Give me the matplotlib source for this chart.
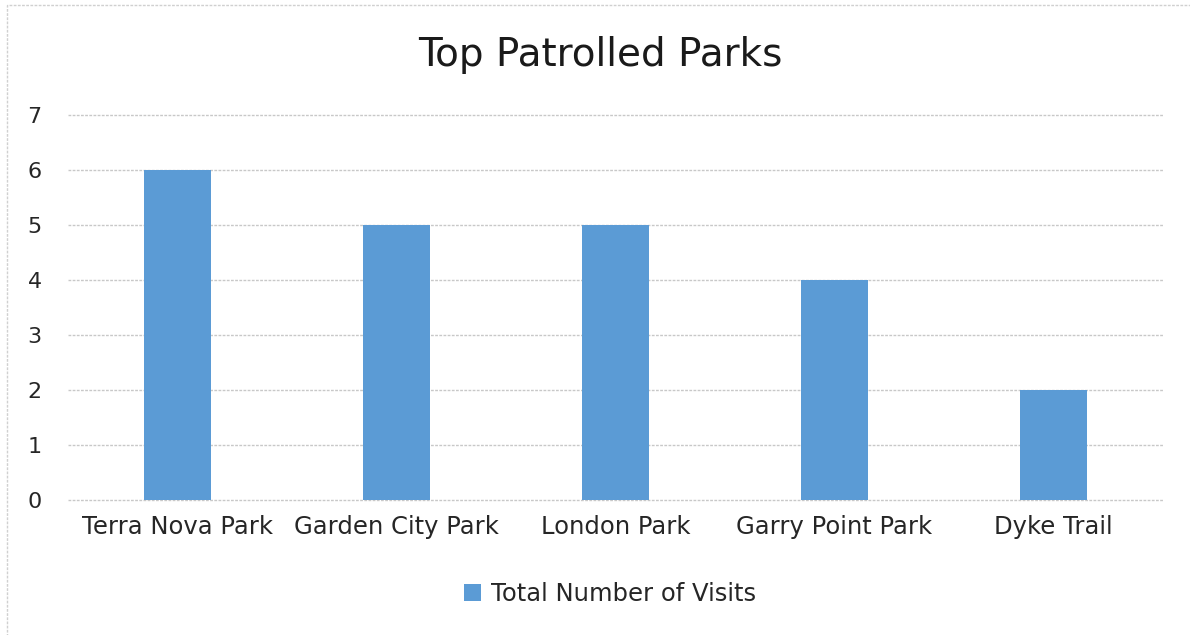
import matplotlib
matplotlib.use("Agg")
import matplotlib.pyplot as plt
from matplotlib.patches import Rectangle

categories = ["Terra Nova Park", "Garden City Park", "London Park", "Garry Point Park", "Dyke Trail"]
visits = [6, 5, 5, 4, 2]
series_name = "Total Number of Visits"
title = "Top Patrolled Parks"

plt.rcParams['font.family'] = ['DejaVu Sans']
fig = plt.figure(figsize=(11.9, 6.35), dpi=100)
ax = fig.add_axes([68/1190, 1-500/635, (1163-68)/1190, (500-115)/635])

x = list(range(len(categories)))
ax.bar(x, visits, width=0.31, color="#5B9BD5", label=series_name, zorder=3)
ax.set_xlim(-0.5, len(categories)-0.5)
ax.set_ylim(0, 7)
ax.set_yticks(range(0, 8))
ax.set_xticks(x)
ax.set_xticklabels(categories, fontsize=17.5, color="#262626")
ax.tick_params(axis='y', labelsize=16, colors="#262626", length=0, pad=19)
ax.tick_params(axis='x', length=0, pad=11)
ax.grid(axis='y', color="#C8C8C8", linestyle=(0, (2, 1)), linewidth=1, zorder=0)
for gl in ax.get_ygridlines():
    gl.set_clip_on(False)
for s in ax.spines.values():
    s.set_visible(False)

fig.text(600/1190, 1-55/635, title, ha='center', va='center', fontsize=28, color="#1a1a1a")

leg = fig.legend(loc='center', bbox_to_anchor=(610/1190, 1-594/635), frameon=False,
                 fontsize=17.5, handlelength=0.7, handleheight=0.7, handletextpad=0.4)
for t in leg.get_texts():
    t.set_color("#262626")

fig.patches.append(Rectangle((7/1190, -0.01), 1.02, 1-5/635+0.01, transform=fig.transFigure,
                             fill=False, edgecolor="#D0D0D0", linewidth=1, linestyle=(0, (2, 1))))

fig.savefig("out.png", dpi=100)
